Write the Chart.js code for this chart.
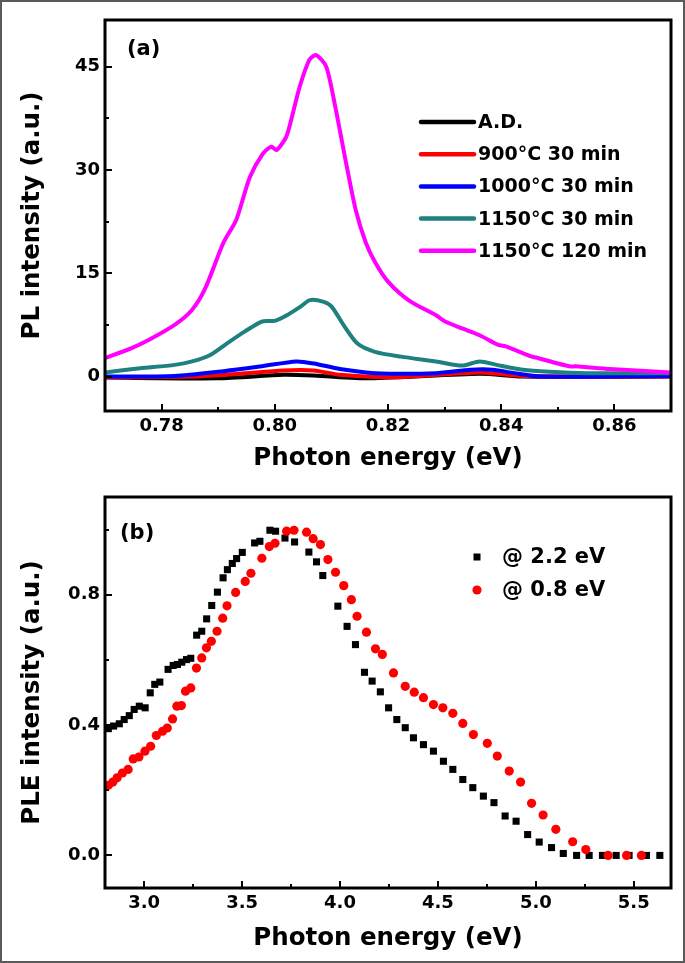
<!DOCTYPE html>
<html>
<head>
<meta charset="utf-8">
<script src="https://cdn.jsdelivr.net/npm/chart.js@4.4.1/dist/chart.umd.min.js"></script>
<style>
html,body{margin:0;padding:0;background:#fff;}
#wa{position:absolute;left:0;top:0;width:685px;height:480px;}
#wb{position:absolute;left:0;top:480px;width:685px;height:483px;}
#frame{position:absolute;left:0;top:0;width:681px;height:959px;border:2px solid #5a5a5a;pointer-events:none;}
</style>
</head>
<body>
<div id="wa"><canvas id="ca" width="685" height="480"></canvas></div>
<div id="wb"><canvas id="cb" width="685" height="483"></canvas></div>
<div id="frame"></div>
<script>
// ---------- Panel (a): PL spectra ----------
const seriesNamesA = ['A.D.', '900°C 30 min', '1000°C 30 min', '1150°C 30 min', '1150°C 120 min'];
const seriesColorsA = ['#000000', '#ff0000', '#0000ff', '#1f8080', '#ff00ff'];

const adX = [0.770, 0.790, 0.8015, 0.8069, 0.8169, 0.8362, 0.8438, 0.870];
const adY = [-0.15, -0.25, 0.25, 0.15, -0.25, 0.4, 0.0, 0.0];

const t900X = [0.770, 0.7862, 0.7938, 0.8015, 0.8069, 0.8115, 0.8208, 0.8362, 0.8438, 0.870];
const t900Y = [-0.1, 0.0, 0.4, 0.9, 0.9, 0.25, -0.1, 0.6, 0.1, 0.0];

const t1000X = [0.770, 0.7823, 0.790, 0.7977, 0.8038, 0.8069, 0.8115, 0.8177, 0.8285, 0.8346, 0.8385, 0.8423, 0.8469, 0.870];
const t1000Y = [0.0, 0.1, 0.7, 1.5, 2.2, 1.9, 1.1, 0.5, 0.5, 1.0, 1.0, 0.5, 0.0, 0.1];

const t1150aX = [0.770, 0.7762, 0.7823, 0.7854, 0.7885, 0.7915, 0.7946, 0.7977, 0.800, 0.8023, 0.8046, 0.8062, 0.8085, 0.810, 0.8123, 0.8146, 0.8177, 0.8223, 0.8285, 0.8331, 0.8362, 0.8392, 0.8438, 0.8485, 0.855, 0.870];
const t1150aY = [0.6, 1.2, 1.7, 2.2, 3.1, 4.8, 6.5, 8.0, 8.1, 9.0, 10.2, 11.1, 10.9, 10.2, 7.3, 4.8, 3.6, 2.9, 2.2, 1.6, 2.2, 1.7, 1.0, 0.7, 0.5, 0.5];

const t1150bX = [0.770, 0.7746, 0.7777, 0.7823, 0.7854, 0.7877, 0.7909, 0.7932, 0.7956, 0.7979, 0.7994, 0.8003, 0.8020, 0.8029, 0.8044, 0.8061, 0.8073, 0.8091, 0.8108, 0.8126, 0.8143, 0.8161, 0.8178, 0.8200, 0.8238, 0.8285, 0.8301, 0.8331, 0.8362, 0.8395, 0.8408, 0.8454, 0.8465, 0.850, 0.8524, 0.8531, 0.8592, 0.870];
const t1150bY = [2.7, 4.1, 5.3, 7.5, 9.7, 12.8, 19.4, 22.8, 29.0, 32.4, 33.4, 32.9, 34.8, 37.3, 42.1, 46.0, 46.7, 45.0, 38.7, 31.0, 24.2, 19.4, 16.5, 13.8, 11.0, 8.9, 8.0, 7.0, 6.0, 4.6, 4.4, 2.9, 2.7, 1.9, 1.45, 1.5, 1.1, 0.6];

const xTicksA = [0.78, 0.80, 0.82, 0.84, 0.86];
const xTickLabelsA = ['0.78', '0.80', '0.82', '0.84', '0.86'];
const xMinorA = [0.79, 0.81, 0.83, 0.85];
const yTicksA = [0, 15, 30, 45];
const yTickLabelsA = ['0', '15', '30', '45'];
const yMinorA = [7.5, 22.5, 37.5];

// ---------- Panel (b): PLE spectra ----------
const seriesNamesB = ['@ 2.2 eV', '@ 0.8 eV'];
const seriesColorsB = ['#000000', '#ff0000'];

const ple22X = [2.817, 2.844, 2.873, 2.898, 2.924, 2.949, 2.975, 3.005, 3.031, 3.054, 3.080, 3.122, 3.148, 3.170, 3.192, 3.216, 3.238, 3.268, 3.294, 3.319, 3.345, 3.374, 3.403, 3.425, 3.450, 3.472, 3.501, 3.564, 3.591, 3.642, 3.671, 3.719, 3.768, 3.841, 3.880, 3.912, 3.989, 4.036, 4.079, 4.125, 4.164, 4.206, 4.248, 4.290, 4.333, 4.375, 4.426, 4.477, 4.528, 4.576, 4.627, 4.678, 4.732, 4.786, 4.843, 4.899, 4.958, 5.017, 5.080, 5.140, 5.208, 5.272, 5.340, 5.410, 5.476, 5.565, 5.633];
const ple22Y = [0.389, 0.397, 0.404, 0.417, 0.429, 0.448, 0.458, 0.453, 0.499, 0.525, 0.532, 0.571, 0.583, 0.586, 0.593, 0.601, 0.605, 0.676, 0.688, 0.726, 0.767, 0.808, 0.852, 0.877, 0.896, 0.911, 0.930, 0.959, 0.964, 0.998, 0.995, 0.974, 0.962, 0.931, 0.901, 0.859, 0.765, 0.703, 0.647, 0.562, 0.535, 0.502, 0.453, 0.417, 0.392, 0.361, 0.340, 0.320, 0.289, 0.264, 0.233, 0.208, 0.182, 0.162, 0.121, 0.105, 0.064, 0.041, 0.024, 0.006, 0.0, 0.0, 0.0, 0.0, 0.0, 0.0, 0.0];

const ple08X = [2.817, 2.840, 2.862, 2.889, 2.918, 2.944, 2.973, 3.004, 3.033, 3.062, 3.094, 3.118, 3.145, 3.167, 3.190, 3.211, 3.238, 3.267, 3.294, 3.318, 3.343, 3.372, 3.401, 3.423, 3.467, 3.516, 3.545, 3.601, 3.639, 3.668, 3.727, 3.765, 3.829, 3.863, 3.900, 3.938, 3.977, 4.019, 4.058, 4.087, 4.135, 4.181, 4.216, 4.273, 4.333, 4.379, 4.426, 4.477, 4.525, 4.576, 4.627, 4.681, 4.752, 4.803, 4.864, 4.922, 4.978, 5.037, 5.102, 5.188, 5.255, 5.369, 5.463, 5.539];
const ple08Y = [0.215, 0.225, 0.238, 0.253, 0.264, 0.296, 0.302, 0.320, 0.335, 0.368, 0.381, 0.391, 0.419, 0.458, 0.460, 0.504, 0.514, 0.575, 0.606, 0.637, 0.657, 0.688, 0.728, 0.766, 0.807, 0.841, 0.866, 0.912, 0.948, 0.958, 0.995, 0.998, 0.992, 0.972, 0.954, 0.908, 0.869, 0.828, 0.785, 0.734, 0.685, 0.634, 0.617, 0.560, 0.519, 0.501, 0.484, 0.463, 0.453, 0.436, 0.405, 0.371, 0.344, 0.305, 0.259, 0.225, 0.160, 0.124, 0.080, 0.042, 0.018, 0.0, 0.0, 0.0];

const xTicksB = [3.0, 3.5, 4.0, 4.5, 5.0, 5.5];
const xTickLabelsB = ['3.0', '3.5', '4.0', '4.5', '5.0', '5.5'];
const xMinorB = [3.25, 3.75, 4.25, 4.75, 5.25];
const yTicksB = [0.0, 0.4, 0.8];
const yTickLabelsB = ['0.0', '0.4', '0.8'];
const yMinorB = [0.2, 0.6, 1.0];

// ---------- helpers ----------
const FONT = '"DejaVu Sans", "Liberation Sans", Arial, sans-serif';
Chart.defaults.font.family = FONT;
Chart.defaults.font.weight = 'bold';
Chart.defaults.color = '#000';

function pts(xs, ys) { return xs.map((x, i) => ({ x: x, y: ys[i] })); }

const boxPlugin = {
  id: 'box',
  afterDraw(chart, args, o) {
    const ctx = chart.ctx, a = chart.chartArea, xs = chart.scales.x, ys = chart.scales.y;
    ctx.save();
    ctx.strokeStyle = '#000';
    ctx.lineWidth = 3;
    ctx.strokeRect(a.left, a.top, a.right - a.left, a.bottom - a.top);
    ctx.lineWidth = 2;
    ctx.beginPath();
    o.xMajor.forEach(v => { const p = Math.round(xs.getPixelForValue(v)); ctx.moveTo(p, a.bottom); ctx.lineTo(p, a.bottom - 7); });
    o.xMinor.forEach(v => { const p = Math.round(xs.getPixelForValue(v)); ctx.moveTo(p, a.bottom); ctx.lineTo(p, a.bottom - 4); });
    o.yMajor.forEach(v => { const p = Math.round(ys.getPixelForValue(v)); ctx.moveTo(a.left, p); ctx.lineTo(a.left + 7, p); });
    o.yMinor.forEach(v => { const p = Math.round(ys.getPixelForValue(v)); ctx.moveTo(a.left, p); ctx.lineTo(a.left + 4, p); });
    ctx.stroke();
    // panel label
    ctx.fillStyle = '#000';
    ctx.font = 'bold 21px ' + FONT;
    ctx.textBaseline = 'middle';
    ctx.textAlign = 'left';
    ctx.fillText(o.label, o.labelX, o.labelY);
    // legend
    const ds = chart.data.datasets;
    ctx.font = 'bold ' + o.legFont + 'px ' + FONT;
    ds.forEach((d, i) => {
      const y = o.legY + i * o.legStep;
      if (o.legType === 'line') {
        ctx.strokeStyle = d.borderColor;
        ctx.lineWidth = 4.5;
        ctx.lineCap = 'round';
        ctx.beginPath(); ctx.moveTo(o.legX0, y); ctx.lineTo(o.legX1, y); ctx.stroke();
      } else {
        ctx.fillStyle = d.backgroundColor;
        if (d.pointStyle === 'rect') {
          ctx.fillRect(o.legX0 - 3.5, y - 3.5, 7, 7);
        } else {
          ctx.beginPath(); ctx.arc(o.legX0, y, 4.6, 0, Math.PI * 2); ctx.fill();
        }
      }
      ctx.fillStyle = '#000';
      ctx.fillText(d.label, o.legTextX, y + 1);
    });
    ctx.restore();
  }
};

function axisCfg(min, max, ticks, labels, width, height, title, titlePad, isX) {
  const c = {
    type: 'linear', min: min, max: max,
    grid: { display: false, drawTicks: false },
    border: { display: false },
    afterBuildTicks: s => { s.ticks = ticks.map(v => ({ value: v })); },
    ticks: {
      autoSkip: false, maxRotation: 0, padding: 5,
      font: { size: 18, weight: 'bold' }, color: '#000',
      callback: (v, i) => labels[i]
    },
    title: { display: true, text: title, color: '#000', font: { size: 24.5, weight: 'bold' }, padding: titlePad }
  };
  if (isX) c.afterFit = s => { s.height = height; };
  else c.afterFit = s => { s.width = width; };
  return c;
}

// ---------- chart (a) ----------
const xsA = [adX, t900X, t1000X, t1150aX, t1150bX];
const ysA = [adY, t900Y, t1000Y, t1150aY, t1150bY];
new Chart(document.getElementById('ca'), {
  type: 'scatter',
  data: {
    datasets: seriesNamesA.map((n, i) => ({
      label: n,
      data: pts(xsA[i], ysA[i]),
      showLine: true,
      borderColor: seriesColorsA[i],
      backgroundColor: seriesColorsA[i],
      borderWidth: 4,
      pointRadius: 0,
      tension: 0.25,
      order: 4 - i
    }))
  },
  options: {
    responsive: false, animation: false, devicePixelRatio: 1,
    layout: { padding: { top: 20, right: 14, left: 0, bottom: 0 } },
    plugins: {
      legend: { display: false }, tooltip: { enabled: false },
      box: { xMajor: xTicksA, xMinor: xMinorA, yMajor: yTicksA, yMinor: yMinorA,
             label: '(a)', labelX: 127, labelY: 50,
             legType: 'line', legX0: 421, legX1: 474, legY: 122, legStep: 32.2, legTextX: 478, legFont: 19 }
    },
    scales: {
      x: axisCfg(0.77, 0.87, xTicksA, xTickLabelsA, 0, 69, 'Photon energy (eV)', { top: 0, bottom: 7 }, true),
      y: axisCfg(-5, 51.8, yTicksA, yTickLabelsA, 105, 0, 'PL intensity (a.u.)', { top: 18, bottom: 0 }, false)
    }
  },
  plugins: [boxPlugin]
});

// ---------- chart (b) ----------
const xsB = [ple22X, ple08X];
const ysB = [ple22Y, ple08Y];
new Chart(document.getElementById('cb'), {
  type: 'scatter',
  data: {
    datasets: seriesNamesB.map((n, i) => ({
      label: n,
      data: pts(xsB[i], ysB[i]),
      showLine: false,
      borderColor: seriesColorsB[i],
      backgroundColor: seriesColorsB[i],
      borderWidth: 0,
      pointStyle: i === 0 ? 'rect' : 'circle',
      pointRadius: i === 0 ? 5 : 4.6,
      order: 1 - i
    }))
  },
  options: {
    responsive: false, animation: false, devicePixelRatio: 1,
    layout: { padding: { top: 17, right: 14, left: 0, bottom: 0 } },
    plugins: {
      legend: { display: false }, tooltip: { enabled: false },
      box: { xMajor: xTicksB, xMinor: xMinorB, yMajor: yTicksB, yMinor: yMinorB,
             label: '(b)', labelX: 120, labelY: 54,
             legType: 'marker', legX0: 477, legY: 77, legStep: 33, legTextX: 502, legFont: 21 }
    },
    scales: {
      x: axisCfg(2.8, 5.69, xTicksB, xTickLabelsB, 0, 75, 'Photon energy (eV)', { top: 0, bottom: 10 }, true),
      y: axisCfg(-0.1, 1.1, yTicksB, yTickLabelsB, 105, 0, 'PLE intensity (a.u.)', { top: 18, bottom: 0 }, false)
    }
  },
  plugins: [boxPlugin]
});
</script>
</body>
</html>
